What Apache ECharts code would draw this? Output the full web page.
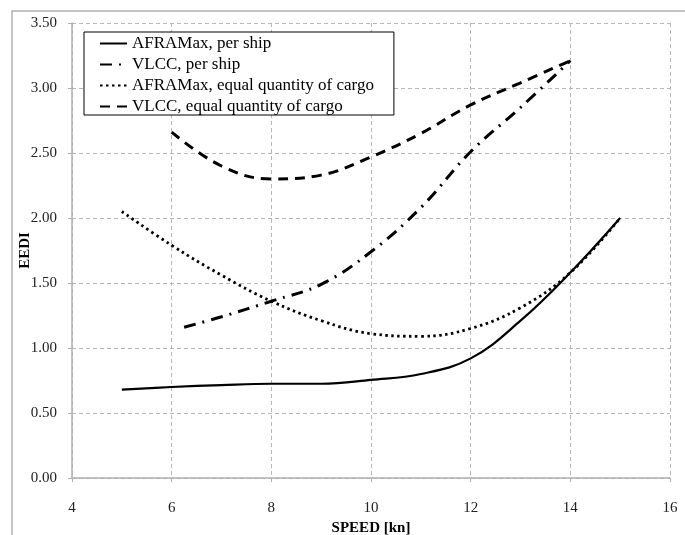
<!DOCTYPE html>
<html>
<head>
<meta charset="utf-8">
<script src="https://cdn.jsdelivr.net/npm/echarts@6/dist/echarts.min.js"></script>
<style>
  html, body { margin: 0; padding: 0; background: #fff; }
  #chart { width: 685px; height: 535px; }
</style>
</head>
<body>
<div id="chart"></div>
<script>
// speeds [kn] and EEDI values
const afraSpeed = [5, 6, 7, 8, 9, 10, 11, 12, 13, 14, 15];
const afraPerShip = [0.68, 0.70, 0.715, 0.725, 0.725, 0.755, 0.80, 0.92, 1.21, 1.58, 2.00];
const afraCargo = [2.05, 1.79, 1.56, 1.36, 1.21, 1.11, 1.09, 1.15, 1.31, 1.58, 2.00];

const vlccShipSpeed = [6.25, 7, 8, 9, 10, 11, 12, 13, 14];
const vlccPerShip = [1.16, 1.24, 1.36, 1.49, 1.74, 2.08, 2.51, 2.85, 3.21];
const vlccCargoSpeed = [6, 7, 8, 9, 10, 11, 12, 13, 14];
const vlccCargo = [2.66, 2.40, 2.30, 2.33, 2.47, 2.65, 2.87, 3.04, 3.21];

const seriesNames = [
  'AFRAMax, per ship',
  'VLCC, per ship',
  'AFRAMax, equal quantity of cargo',
  'VLCC, equal quantity of cargo'
];

const serif = 'Liberation Serif';

function pairs(xs, ys) {
  return xs.map((x, i) => [x, ys[i]]);
}

const chart = echarts.init(document.getElementById('chart'));

const option = {
  animation: false,
  backgroundColor: '#fff',
  graphic: [{
    type: 'rect',
    z: -10,
    shape: { x: 12, y: 11, width: 700, height: 600 },
    style: { fill: 'none', stroke: '#b0b0b0', lineWidth: 1.5 }
  }],
  grid: { left: 72, right: 15, top: 23, bottom: 57, outerBoundsMode: 'none' },
  legend: {
    orient: 'vertical',
    left: 84,
    top: 32,
    padding: [3, 20, 0, 15],
    itemGap: 4,
    itemWidth: 27,
    itemHeight: 14,
    backgroundColor: '#fff',
    borderColor: '#000',
    borderWidth: 1,
    borderRadius: 0,
    itemStyle: { opacity: 0 },
    textStyle: { fontFamily: serif, fontSize: 17, lineHeight: 15, color: '#000' },
    data: seriesNames
  },
  xAxis: {
    type: 'value',
    min: 4,
    max: 16,
    interval: 2,
    name: 'SPEED [kn]',
    nameLocation: 'middle',
    nameGap: 41,
    nameTextStyle: { fontFamily: serif, fontSize: 15, fontWeight: 'bold', color: '#000' },
    axisLine: { lineStyle: { color: '#b0b0b0', width: 1.5 } },
    axisTick: { show: true, inside: false, length: 4, lineStyle: { color: '#b0b0b0' } },
    axisLabel: { fontFamily: serif, fontSize: 15, color: '#222', margin: 23 },
    splitLine: { show: true, lineStyle: { color: '#b8b8b8', type: [4, 3], width: 1 } }
  },
  yAxis: {
    type: 'value',
    min: 0,
    max: 3.5,
    interval: 0.5,
    name: 'EEDI',
    nameLocation: 'middle',
    nameMoveOverlap: false,
    nameGap: 39,
    nameTextStyle: { fontFamily: serif, fontSize: 15, fontWeight: 'bold', color: '#000' },
    axisLine: { show: true, lineStyle: { color: '#b0b0b0', width: 1.5 } },
    axisTick: { show: true, inside: false, length: 4, lineStyle: { color: '#b0b0b0' } },
    axisLabel: {
      fontFamily: serif, fontSize: 15, color: '#222', margin: 15,
      formatter: (v) => v.toFixed(2)
    },
    splitLine: { show: true, lineStyle: { color: '#b8b8b8', type: [4, 3], width: 1 } }
  },
  series: [
    {
      name: seriesNames[0],
      type: 'line',
      symbol: 'none',
      smooth: 0.4,
      data: pairs(afraSpeed, afraPerShip),
      lineStyle: { color: '#000', width: 2.2, type: 'solid' },
      itemStyle: { color: '#000' }
    },
    {
      name: seriesNames[1],
      type: 'line',
      symbol: 'none',
      smooth: 0.4,
      data: pairs(vlccShipSpeed, vlccPerShip),
      lineStyle: { color: '#000', width: 3, type: [12, 7, 2, 7] },
      itemStyle: { color: '#000' }
    },
    {
      name: seriesNames[2],
      type: 'line',
      symbol: 'none',
      smooth: 0.4,
      data: pairs(afraSpeed, afraCargo),
      lineStyle: { color: '#000', width: 2.8, type: [2.5, 3.5] },
      itemStyle: { color: '#000' }
    },
    {
      name: seriesNames[3],
      type: 'line',
      symbol: 'none',
      smooth: 0.4,
      data: pairs(vlccCargoSpeed, vlccCargo),
      lineStyle: { color: '#000', width: 3, type: [10, 7] },
      itemStyle: { color: '#000' }
    }
  ]
};

chart.setOption(option);
</script>
</body>
</html>
